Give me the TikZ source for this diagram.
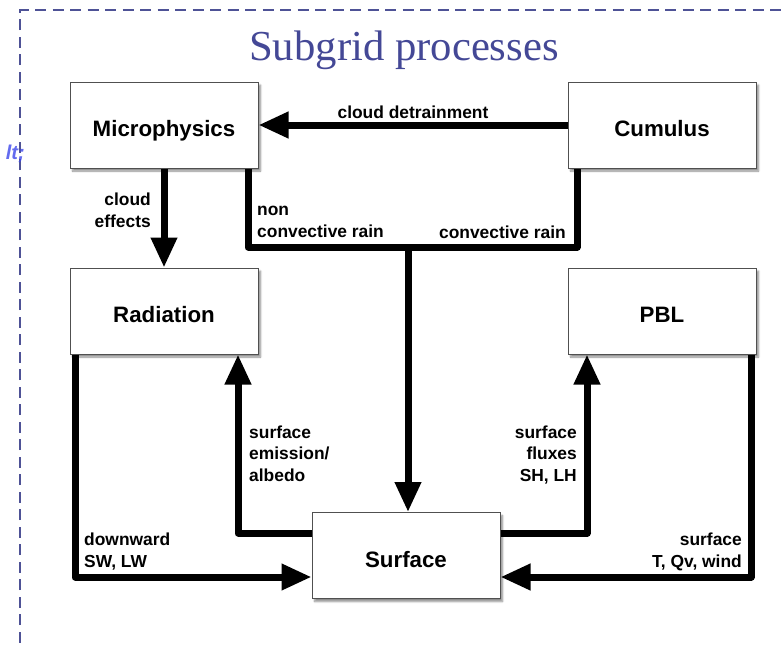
\documentclass[tikz,border=0pt]{standalone}
\usepackage{fontspec}
\setmainfont{Liberation Serif}
\newfontfamily\helv{Liberation Sans}
\usetikzlibrary{arrows.meta,shadows.blur}
\definecolor{ttl}{RGB}{68,72,150}
\definecolor{dashc}{RGB}{78,82,150}
\definecolor{boxline}{RGB}{80,80,80}
\definecolor{fragblue}{RGB}{60,70,235}
\tikzset{
  box/.style={draw=boxline, line width=1pt, fill=white, minimum width=188pt, minimum height=86pt,
    inner sep=0pt, text height=23pt, text depth=0pt, font=\helv\bfseries\fontsize{22.3}{26}\selectfont,
    blur shadow={shadow xshift=2.5pt, shadow yshift=-3pt, shadow blur steps=6, shadow opacity=45}},
  conn/.style={line width=7pt, line join=round},
  arr/.style={conn, -{Triangle[length=30pt,width=25pt]}},
  lbl/.style={font=\helv\bfseries\fontsize{17.4}{21.5}\selectfont, inner sep=0pt},
}
\begin{document}
\begin{tikzpicture}[x=1pt,y=-1pt]
\useasboundingbox (0,0) rectangle (782,646);
% frame
\draw[dashc, line width=2.2pt, dash pattern=on 11pt off 6.5pt] (20,660) -- (20,10) -- (800,10);
\node[anchor=base east, inner sep=0pt, text=fragblue, opacity=0.8, font=\helv\bfseries\itshape\fontsize{20}{22}\selectfont] (frag) at (25,159) {lt;};
% title
\node[anchor=base, inner sep=0pt, text=ttl, font=\fontsize{42.7}{46}\selectfont] (title) at (404,60) {Subgrid processes};
% boxes
\node[box] (mic) at (164,125) {Microphysics};
\node[box] (cum) at (662,125) {Cumulus};
\node[box] (rad) at (164,311) {Radiation};
\node[box] (pbl) at (662,311) {PBL};
\node[box] (sur) at (406,555.5) {Surface};
% helper coordinates
\coordinate (rl) at (248,247);
\coordinate (rr) at (577,247);
\coordinate (rm) at (408,247);
\coordinate (sel) at (238,533);
\coordinate (ser) at (587,533);
\coordinate (dl) at (75,577);
\coordinate (dr) at (751,577);
% connectors
\draw[arr] (cum.west) -- (mic.east);
\draw[arr] (mic.south) -- (rad.north);
\draw[conn] (mic.south -| rl) -- (rl) -- (rr) -- (cum.south -| rr);
\draw[arr] (rm) -- (sur.north -| rm);
\draw[arr] (sur.west |- sel) -- (sel) -- (rad.south -| sel);
\draw[arr] (sur.east |- ser) -- (ser) -- (pbl.south -| ser);
\draw[arr] (rad.south -| dl) -- (dl) -- (sur.west |- dl);
\draw[arr] (pbl.south -| dr) -- (dr) -- (sur.east |- dr);
% labels (base anchor = baseline of last line)
\node[lbl, anchor=base] (l1) at (413,118) {cloud detrainment};
\node[lbl, anchor=base east, align=right] (l2) at (151,227) {cloud\\effects};
\node[lbl, anchor=base west, align=left] (l3) at (257,237) {non\\convective rain};
\node[lbl, anchor=base east] (l4) at (566,238) {convective rain};
\node[lbl, anchor=base west, align=left] (l5) at (249,481) {surface\\emission/\\albedo};
\node[lbl, anchor=base east, align=right] (l6) at (577,481) {surface\\fluxes\\SH, LH};
\node[lbl, anchor=base west, align=left] (l7) at (84,567) {downward\\SW, LW};
\node[lbl, anchor=base east, align=right] (l8) at (742,567) {surface\\T, Qv, wind};
\end{tikzpicture}
\end{document}
